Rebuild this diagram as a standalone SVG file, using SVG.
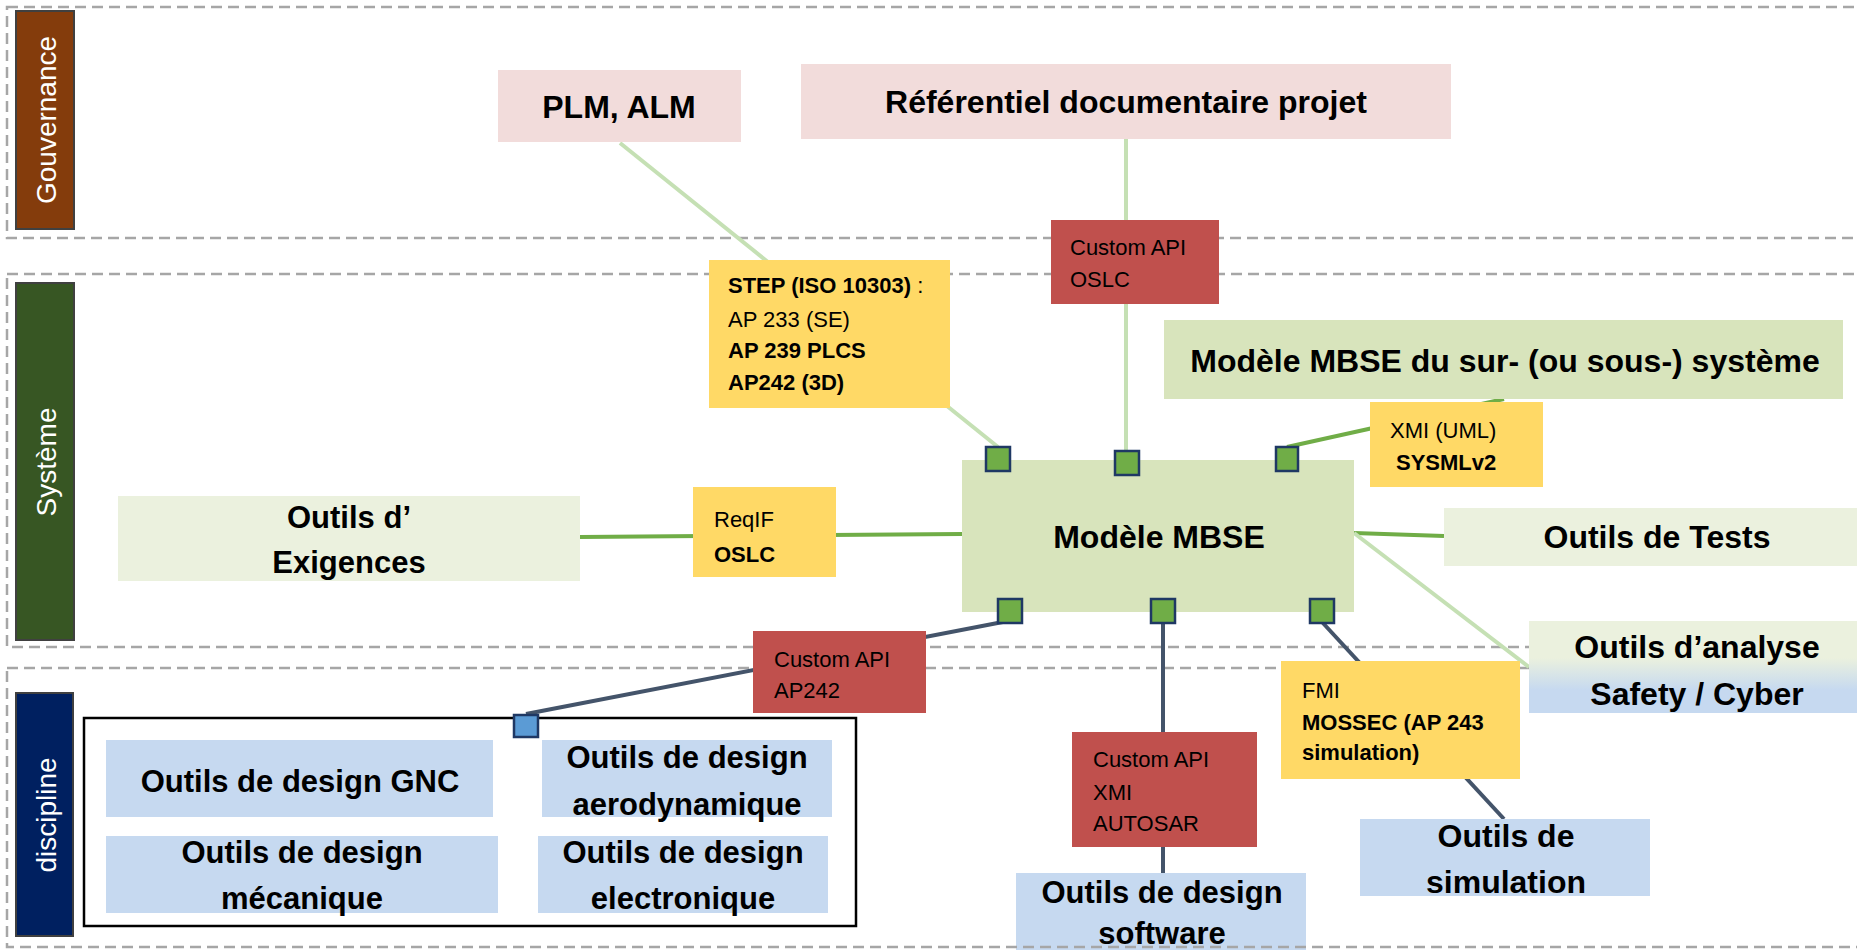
<svg xmlns="http://www.w3.org/2000/svg" width="1857" height="950" viewBox="0 0 1857 950">
<defs>
<style>
.lane{fill:none;stroke:#A6A6A6;stroke-width:2.5;stroke-dasharray:11 6}
.bar{stroke:#404040;stroke-width:2}
.lbl{font-family:"Liberation Sans",Arial,sans-serif;font-size:28px;fill:#fff;text-anchor:middle}
.big{font-family:"Liberation Sans",Arial,sans-serif;font-size:32px;font-weight:bold;fill:#000;text-anchor:middle}
.mid{font-family:"Liberation Sans",Arial,sans-serif;font-size:31px;font-weight:bold;fill:#000;text-anchor:middle}
.sm{font-family:"Liberation Sans",Arial,sans-serif;font-size:22px;fill:#000}
.b{font-weight:bold}
.pink{fill:#F2DCDB}
.olive{fill:#D8E4BC}
.pale{fill:#EBF1DE}
.blue{fill:#C6D9F0}
.yel{fill:#FFD966}
.red{fill:#C0504D}
.port{fill:#70AD47;stroke:#1F3864;stroke-width:2.5}
.c1{stroke:#C5E0B4;stroke-width:4;fill:none}
.c2{stroke:#70AD47;stroke-width:4;fill:none}
.c3{stroke:#44546A;stroke-width:4;fill:none}
</style>
<linearGradient id="gSafe" x1="0" y1="0" x2="0" y2="1">
<stop offset="0" stop-color="#EBF1DE"/><stop offset="0.4" stop-color="#EBF1DE"/><stop offset="0.75" stop-color="#C6D9F0"/><stop offset="1" stop-color="#C6D9F0"/>
</linearGradient>
</defs>
<rect width="1857" height="950" fill="#fff"/>

<g id="software">
<rect class="blue" x="1016" y="873" width="290" height="100"/>
<text class="mid" x="1162" y="903">Outils de design</text>
<text class="mid" x="1162" y="944">software</text>
</g>

<g id="lanes">
<rect class="lane" x="7" y="7" width="1870" height="231"/>
<rect class="lane" x="7" y="274" width="1870" height="373"/>
<rect class="lane" x="7" y="668" width="1870" height="279"/>
</g>

<g id="lane-gouvernance">
<rect class="bar" x="16" y="11" width="58" height="218" fill="#843C0C"/>
<text class="lbl" transform="translate(56,120) rotate(-90)">Gouvernance</text>
</g>
<g id="lane-systeme">
<rect class="bar" x="16" y="283" width="58" height="357" fill="#375623"/>
<text class="lbl" transform="translate(56,462) rotate(-90)">Système</text>
</g>
<g id="lane-discipline">
<rect class="bar" x="16" y="693" width="57" height="243" fill="#002060"/>
<text class="lbl" transform="translate(56,815) rotate(-90)">discipline</text>
</g>

<g id="connectors">
<line class="c1" x1="620" y1="143" x2="998" y2="447"/>
<line class="c1" x1="1126" y1="139" x2="1126" y2="451"/>
<line class="c2" x1="1287" y1="447" x2="1504" y2="399"/>
<line class="c2" x1="580" y1="537" x2="962" y2="534"/>
<line class="c2" x1="1354" y1="533" x2="1444" y2="536"/>
<line class="c1" x1="1354" y1="533" x2="1529" y2="667"/>
<line class="c3" x1="1008" y1="621" x2="526" y2="714"/>
<line class="c3" x1="1163" y1="622" x2="1163" y2="873"/>
<line class="c3" x1="1322" y1="622" x2="1504" y2="819"/>
</g>

<g id="plm">
<rect class="pink" x="498" y="70" width="243" height="72"/>
<text class="big" x="619" y="118">PLM, ALM</text>
</g>
<g id="referentiel">
<rect class="pink" x="801" y="64" width="650" height="75"/>
<text class="big" x="1126" y="113">Référentiel documentaire projet</text>
</g>
<g id="api-oslc">
<rect class="red" x="1051" y="220" width="168" height="84"/>
<text class="sm" x="1070" y="255">Custom API</text>
<text class="sm" x="1070" y="287">OSLC</text>
</g>
<g id="step">
<rect class="yel" x="709" y="260" width="241" height="148"/>
<text class="sm" x="728" y="293"><tspan class="b">STEP (ISO 10303)</tspan> :</text>
<text class="sm" x="728" y="327">AP 233 (SE)</text>
<text class="sm b" x="728" y="358">AP 239 PLCS</text>
<text class="sm b" x="728" y="390">AP242 (3D)</text>
</g>
<g id="sur-systeme">
<rect class="olive" x="1164" y="320" width="679" height="79"/>
<text class="big" x="1505" y="372">Modèle MBSE du sur- (ou sous-) système</text>
</g>
<g id="xmi">
<rect class="yel" x="1370" y="402" width="173" height="85"/>
<text class="sm" x="1390" y="438">XMI (UML)</text>
<text class="sm b" x="1396" y="470">SYSMLv2</text>
</g>
<g id="exigences">
<rect class="pale" x="118" y="496" width="462" height="85"/>
<text class="mid" x="349" y="528">Outils d’</text>
<text class="mid" x="349" y="573">Exigences</text>
</g>
<g id="reqif">
<rect class="yel" x="693" y="487" width="143" height="90"/>
<text class="sm" x="714" y="527">ReqIF</text>
<text class="sm b" x="714" y="562">OSLC</text>
</g>
<g id="mbse">
<rect class="olive" x="962" y="460" width="392" height="152"/>
<text class="big" x="1159" y="548">Modèle MBSE</text>
</g>
<g id="ports">
<rect class="port" x="986" y="447" width="24" height="24"/>
<rect class="port" x="1115" y="451" width="24" height="24"/>
<rect class="port" x="1276" y="447" width="22" height="24"/>
<rect class="port" x="998" y="599" width="24" height="24"/>
<rect class="port" x="1151" y="599" width="24" height="24"/>
<rect class="port" x="1310" y="599" width="24" height="24"/>
</g>
<g id="tests">
<rect class="pale" x="1444" y="508" width="430" height="58"/>
<text class="big" x="1657" y="548">Outils de Tests</text>
</g>
<g id="safety">
<rect x="1529" y="621" width="340" height="92" fill="url(#gSafe)"/>
<text class="big" x="1697" y="658">Outils d’analyse</text>
<text class="big" x="1697" y="705">Safety / Cyber</text>
</g>
<g id="api-ap242">
<rect class="red" x="753" y="631" width="173" height="82"/>
<text class="sm" x="774" y="667">Custom API</text>
<text class="sm" x="774" y="698">AP242</text>
</g>
<g id="fmi">
<rect class="yel" x="1281" y="661" width="239" height="118"/>
<text class="sm" x="1302" y="698">FMI</text>
<text class="sm b" x="1302" y="730">MOSSEC (AP 243</text>
<text class="sm b" x="1302" y="760">simulation)</text>
</g>
<g id="api-xmi-autosar">
<rect class="red" x="1072" y="732" width="185" height="115"/>
<text class="sm" x="1093" y="767">Custom API</text>
<text class="sm" x="1093" y="800">XMI</text>
<text class="sm" x="1093" y="831">AUTOSAR</text>
</g>
<g id="simulation">
<rect class="blue" x="1360" y="819" width="290" height="77"/>
<text class="big" x="1506" y="847">Outils de</text>
<text class="big" x="1506" y="893">simulation</text>
</g>
<g id="discipline-tools">
<rect x="84" y="718" width="772" height="208" fill="#fff" stroke="#000" stroke-width="2.5"/>
<rect class="blue" x="106" y="740" width="387" height="77"/>
<text class="mid" x="300" y="792">Outils de design GNC</text>
<rect class="blue" x="542" y="740" width="290" height="77"/>
<text class="mid" x="687" y="768">Outils de design</text>
<text class="mid" x="687" y="815">aerodynamique</text>
<rect class="blue" x="106" y="836" width="392" height="77"/>
<text class="mid" x="302" y="863">Outils de design</text>
<text class="mid" x="302" y="909">mécanique</text>
<rect class="blue" x="538" y="836" width="290" height="77"/>
<text class="mid" x="683" y="863">Outils de design</text>
<text class="mid" x="683" y="909">electronique</text>
<rect x="514" y="715" width="24" height="22" fill="#5B9BD5" stroke="#1F3864" stroke-width="2.5"/>
</g>
</svg>
